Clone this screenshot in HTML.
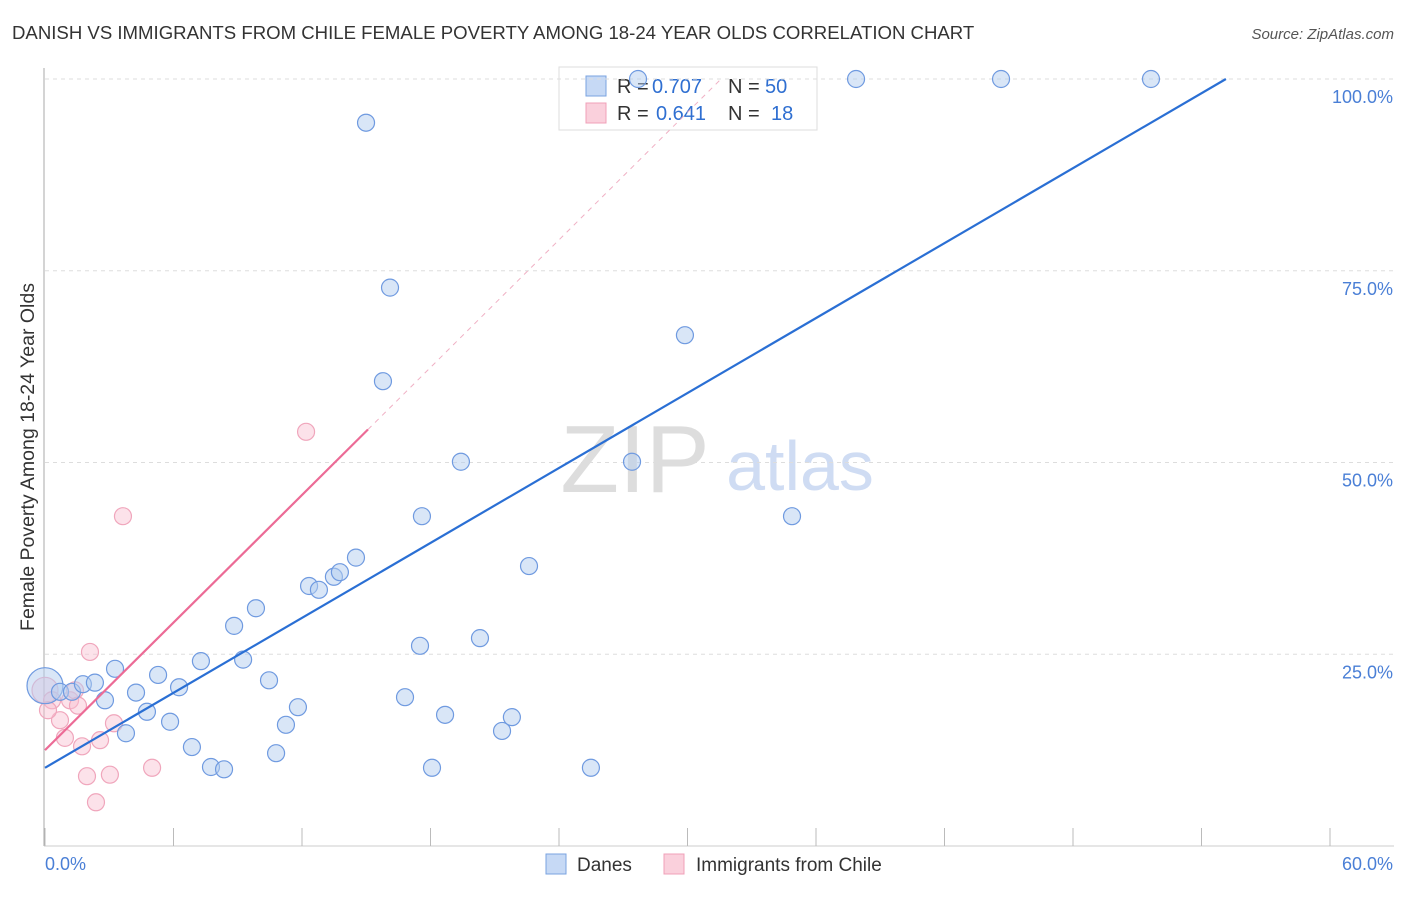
<!DOCTYPE html>
<html><head><meta charset="utf-8"><style>
body{margin:0;background:#fff;font-family:"Liberation Sans",sans-serif;}
svg text{font-family:"Liberation Sans",sans-serif;}
</style></head><body>
<svg id="chart" width="1406" height="892" xmlns="http://www.w3.org/2000/svg">
<text x="12" y="39" font-size="18.6" fill="#333">DANISH VS IMMIGRANTS FROM CHILE FEMALE POVERTY AMONG 18-24 YEAR OLDS CORRELATION CHART</text>
<text x="1394" y="39" font-size="15" fill="#555" text-anchor="end" font-style="italic">Source: ZipAtlas.com</text>
<text x="635" y="492" font-size="96" fill="#ddd" font-family="Liberation Serif" text-anchor="middle">ZIP</text>
<text x="800" y="490" font-size="70" fill="#cfdcf3" text-anchor="middle">atlas</text>
<g>
<rect x="559" y="67" width="258" height="63" fill="#fff" stroke="#ddd"/>
<rect x="586" y="76" width="20" height="20" fill="#c6d9f5" stroke="#7aa3e0"/>
<text x="617" y="93" font-size="20" fill="#333">R =</text>
<text x="652" y="93" font-size="20" fill="#2f6fd1">0.707</text>
<text x="728" y="93" font-size="20" fill="#333">N =</text>
<text x="765" y="93" font-size="20" fill="#2f6fd1">50</text>
<rect x="586" y="103" width="20" height="20" fill="#fad0dc" stroke="#f0a0b8"/>
<text x="617" y="120" font-size="20" fill="#333">R =</text>
<text x="656" y="120" font-size="20" fill="#2f6fd1">0.641</text>
<text x="728" y="120" font-size="20" fill="#333">N =</text>
<text x="771" y="120" font-size="20" fill="#2f6fd1">18</text>
</g>
<g id="grid"></g><g id="marks"></g>
<text transform="translate(34,457) rotate(-90)" font-size="19.5" fill="#333" text-anchor="middle">Female Poverty Among 18-24 Year Olds</text>
<g>
<rect x="546" y="854" width="20" height="20" fill="#c6d9f5" stroke="#7aa3e0"/>
<text x="577" y="871" font-size="19" fill="#333">Danes</text>
<rect x="664" y="854" width="20" height="20" fill="#fad0dc" stroke="#f0a0b8"/>
<text x="696" y="871" font-size="19" fill="#333">Immigrants from Chile</text>
</g>
</svg>
<script>
const danesX=[0,0.7,1.26,1.77,2.33,2.8,3.27,3.78,4.25,4.76,5.28,5.84,6.26,6.86,7.28,7.75,8.36,8.83,9.25,9.85,10.46,10.79,11.25,11.81,12.33,12.79,13.49,13.77,14.52,14.99,15.78,16.11,16.81,17.51,17.6,18.07,18.68,19.42,20.31,21.34,21.8,22.6,25.49,27.41,27.69,29.88,34.88,37.87,44.64,51.64];
const danesY=[20.9,20.1,20.1,21.1,21.3,19.0,23.1,14.7,20.0,17.5,22.3,16.2,20.7,12.9,24.1,10.3,10.0,28.7,24.3,31.0,21.6,12.1,15.8,18.1,33.9,33.4,35.1,35.7,37.6,94.3,60.6,72.8,19.4,26.1,43.0,10.2,17.1,50.1,27.1,15.0,16.8,36.5,10.2,50.1,100,66.6,43.0,100,100,100];
const chileX=[0,0.33,0.7,0.93,1.17,1.4,1.54,1.73,1.96,2.1,2.38,2.57,3.03,3.22,3.64,5.0,12.19,0.14];
const chileY=[20.3,19.0,16.4,14.1,19.0,20.3,18.3,13.0,9.1,25.3,5.7,13.8,9.3,16.0,43.0,10.2,54.0,17.7];
const danesLine=[10.2,100,55.14];
const chileLine=[12.5,54.3,15.08];
const xTickLabels=["0.0%","60.0%"];
const yTicks=[25,50,75,100];
const X=v=>45+v*(1285/60), Y=v=>846-v*7.67;
const NS="http://www.w3.org/2000/svg";
function mk(t,a,p){const e=document.createElementNS(NS,t);for(const k in a)e.setAttribute(k,a[k]);p.appendChild(e);return e;}
const g=document.getElementById('grid'),m=document.getElementById('marks');
yTicks.forEach(t=>{
 const l=mk('line',{x1:45,x2:1394,y1:Y(t),y2:Y(t),stroke:'#ddd','stroke-dasharray':'4,4'},g);
 
 
 const tx=mk('text',{x:1393,y:Y(t)+24,'font-size':18,fill:'#4a7fd6','text-anchor':'end'},g);
 tx.textContent=t.toFixed(1)+'%';
 
 
});
mk('line',{x1:44,x2:44,y1:68,y2:846,stroke:'#aaa'},g);
mk('line',{x1:44,x2:1394,y1:846,y2:846,stroke:'#ccc'},g);
for(let i=0;i<=10;i++){const l=mk('line',{x1:X(i*6),x2:X(i*6),y1:828,y2:846,stroke:'#bbb'},g);
 
 }
[[0,45,'start'],[60,1393,'end']].forEach((d,i)=>{const t=mk('text',{x:d[1],y:870,'font-size':18,fill:'#4a7fd6','text-anchor':d[2]},g);t.textContent=xTickLabels[i];
 
 });
const cs=(chileLine[1]-chileLine[0])/chileLine[2];
const ext=mk('line',{x1:X(chileLine[2]),y1:Y(chileLine[1]),x2:X((100-chileLine[0])/cs),y2:Y(100),stroke:'#f0b0c4','stroke-dasharray':'5,5'},m);


chileX.forEach((x,i)=>{const c=mk('circle',{cx:X(x),cy:Y(chileY[i]),r:i==0?13:8.5,fill:'rgba(248,190,208,0.45)',stroke:'#f0a6bc','stroke-width':1.2},m);
 
 });
danesX.forEach((x,i)=>{const c=mk('circle',{cx:X(x),cy:Y(danesY[i]),r:i==0?18:8.5,fill:'rgba(180,205,240,0.5)',stroke:'#6f9ae0','stroke-width':1.2},m);
 
 });
const bl=mk('line',{x1:X(0),y1:Y(danesLine[0]),x2:X(danesLine[2]),y2:Y(danesLine[1]),stroke:'#2a6fd4','stroke-width':2.2},m);


const pl=mk('line',{x1:X(0),y1:Y(chileLine[0]),x2:X(chileLine[2]),y2:Y(chileLine[1]),stroke:'#ec6b96','stroke-width':2.2},m);


</script>
</body></html>
